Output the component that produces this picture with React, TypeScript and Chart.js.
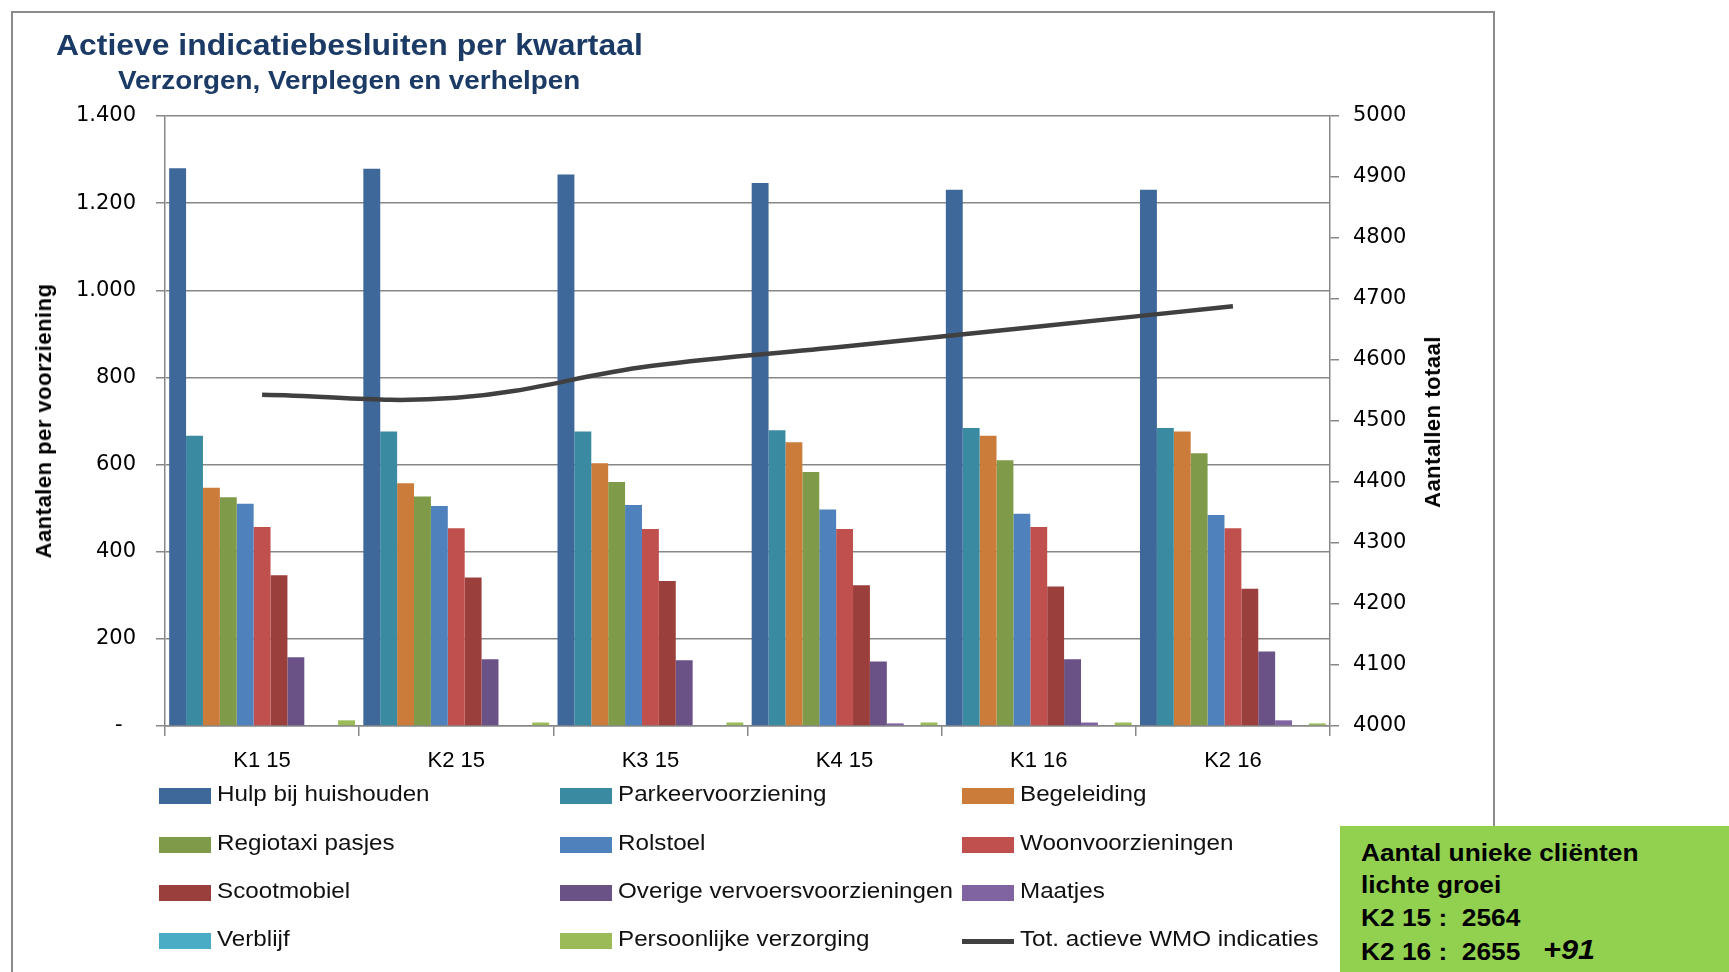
import React, { useEffect, useRef } from 'react';
import { Chart, registerables } from 'chart.js';

Chart.register(...registerables);

// ---------- data ----------
const categories = ['K1 15', 'K2 15', 'K3 15', 'K4 15', 'K1 16', 'K2 16'];
const hulpBijHuishouden = [1280, 1279, 1266, 1246, 1231, 1231];
const parkeervoorziening = [666, 676, 676, 679, 684, 684];
const begeleiding = [547, 557, 603, 651, 666, 676];
const regiotaxiPasjes = [525, 527, 560, 583, 610, 626];
const rolstoel = [510, 505, 507, 497, 487, 484];
const woonvoorzieningen = [457, 454, 452, 452, 457, 454];
const scootmobiel = [346, 341, 333, 323, 320, 315];
const overigeVervoer = [158, 153, 151, 148, 153, 171];
const maatjes = [0, 0, 0, 6, 8, 13];
const verblijf = [0, 0, 0, 0, 0, 0];
const persoonlijkeVerzorging = [13, 8, 8, 8, 8, 6];
const totaalWmoIndicaties = [4543, 4538, 4590, 4622, 4655, 4688];

const leftAxisTicks = [0, 200, 400, 600, 800, 1000, 1200, 1400];
const rightAxisTicks = [4000, 4100, 4200, 4300, 4400, 4500, 4600, 4700, 4800, 4900, 5000];

const barLabels = [
  'Hulp bij huishouden',
  'Parkeervoorziening',
  'Begeleiding',
  'Regiotaxi pasjes',
  'Rolstoel',
  'Woonvoorzieningen',
  'Scootmobiel',
  'Overige vervoersvoorzieningen',
  'Maatjes',
  'Verblijf',
  'Persoonlijke verzorging',
];
const barValues = [
  hulpBijHuishouden,
  parkeervoorziening,
  begeleiding,
  regiotaxiPasjes,
  rolstoel,
  woonvoorzieningen,
  scootmobiel,
  overigeVervoer,
  maatjes,
  verblijf,
  persoonlijkeVerzorging,
];
const lineLabel = 'Tot. actieve WMO indicaties';

const titleText = 'Actieve indicatiebesluiten per kwartaal';
const subtitleText = 'Verzorgen, Verplegen en verhelpen';
const leftAxisTitle = 'Aantalen per voorziening';
const rightAxisTitle = 'Aantallen totaal';
const infoLines = ['Aantal unieke cliënten', 'lichte groei', 'K2 15 :  2564', 'K2 16 :  2655'];
const infoDelta = '+91';

// ---------- styles ----------
const barColors = [
  '#3E6899',
  '#3A8AA1',
  '#CB7B3A',
  '#7F9A48',
  '#4F81BD',
  '#C0504D',
  '#9B3F3D',
  '#6A5186',
  '#8064A2',
  '#4BACC6',
  '#9BBB59',
];
const lineColor = '#404040';
const axisGray = '#878787';
const FONT = '"Liberation Sans", Arial, sans-serif';

function formatNl(v: number): string {
  if (v === 0) return '-  ';
  return String(v).replace(/\B(?=(\d{3})+(?!\d))/g, '.');
}

export default function App() {
  const canvasRef = useRef<HTMLCanvasElement>(null);

  useEffect(() => {
    const canvas = canvasRef.current;
    if (!canvas) return;
    Chart.defaults.font.family = FONT;
    const datasets: any[] = barValues.map((vals, i) => ({
      type: 'bar',
      label: barLabels[i],
      data: vals,
      backgroundColor: barColors[i],
      borderWidth: 0,
      yAxisID: 'y',
      order: 1,
      barPercentage: 1,
      categoryPercentage: 0.957,
    }));
    datasets.push({
      type: 'line',
      label: lineLabel,
      data: totaalWmoIndicaties,
      borderColor: lineColor,
      backgroundColor: lineColor,
      borderWidth: 4.5,
      pointRadius: 0,
      tension: 0.4,
      fill: false,
      yAxisID: 'y1',
      order: 0,
    });

    const chart = new Chart(canvas, {
      type: 'bar',
      data: { labels: categories, datasets },
      options: {
        responsive: false,
        animation: false,
        layout: { padding: { top: 116, left: 0, right: 0, bottom: 0 } },
        plugins: {
          legend: { display: false },
          tooltip: { enabled: false },
          title: { display: false },
        },
        scales: {
          x: {
            grid: {
              drawOnChartArea: false,
              color: axisGray,
              lineWidth: 1.5,
              tickLength: 10,
              offset: true,
            },
            border: { color: axisGray, width: 1.5 },
            ticks: {
              color: '#000',
              font: { family: FONT, size: 22 },
              padding: 12,
              maxRotation: 0,
            },
            afterFit: (s: any) => {
              s.height = 246;
            },
          },
          y: {
            position: 'left',
            min: 0,
            max: 1400,
            afterBuildTicks: (s: any) => {
              s.ticks = leftAxisTicks.map((v) => ({ value: v }));
            },
            ticks: {
              color: '#000',
              font: { family: '"DejaVu Sans", Verdana, sans-serif', size: 21 },
              padding: 20,
              callback: (v: any) => formatNl(Number(v)),
            },
            grid: { color: axisGray, lineWidth: 1.5, tickLength: 9 },
            border: { color: axisGray, width: 1.5 },
            afterFit: (s: any) => {
              s.width = 165;
            },
          },
          y1: {
            position: 'right',
            min: 4000,
            max: 5000,
            afterBuildTicks: (s: any) => {
              s.ticks = rightAxisTicks.map((v) => ({ value: v }));
            },
            ticks: {
              color: '#000',
              font: { family: '"DejaVu Sans", Verdana, sans-serif', size: 21 },
              padding: 14,
              callback: (v: any) => String(v),
            },
            grid: { drawOnChartArea: false, color: axisGray, lineWidth: 1.5, tickLength: 9 },
            border: { color: axisGray, width: 1.5 },
            afterFit: (s: any) => {
              s.width = 399;
            },
          },
        },
      } as any,
    } as any);
    return () => chart.destroy();
  }, []);

  const legendItems = [...barLabels, lineLabel];
  const colX = [159, 560, 962];
  const rowY = [788, 836.5, 885, 933];

  return (
    <div
      style={{
        position: 'fixed',
        left: 0,
        top: 0,
        width: 1729,
        height: 972,
        overflow: 'hidden',
        background: '#fff',
        fontFamily: FONT,
      }}
    >
      {/* frame */}
      <div
        style={{
          position: 'absolute',
          left: 11,
          top: 11,
          width: 1480,
          height: 1100,
          border: '2px solid #8C8C8C',
        }}
      />
      <canvas
        ref={canvasRef}
        width={1729}
        height={972}
        style={{ position: 'absolute', left: 0, top: 0, width: 1729, height: 972 }}
      />
      {/* title */}
      <div
        style={{
          position: 'absolute',
          left: 56,
          top: 31,
          fontSize: 29,
          lineHeight: '29px',
          fontWeight: 'bold',
          color: '#1B3A66',
          whiteSpace: 'pre',
          transform: 'scaleX(1.1)',
          transformOrigin: 'left top',
        }}
      >
        {titleText}
      </div>
      <div
        style={{
          position: 'absolute',
          left: 118,
          top: 67,
          fontSize: 26,
          lineHeight: '26px',
          fontWeight: 'bold',
          color: '#1B3A66',
          whiteSpace: 'pre',
          transform: 'scaleX(1.07)',
          transformOrigin: 'left top',
        }}
      >
        {subtitleText}
      </div>
      {/* axis titles */}
      <div
        style={{
          position: 'absolute',
          left: 44,
          top: 421,
          fontSize: 22,
          lineHeight: '22px',
          fontWeight: 'bold',
          letterSpacing: '0.5px',
          color: '#000',
          whiteSpace: 'pre',
          transform: 'translate(-50%, -50%) rotate(-90deg)',
        }}
      >
        {leftAxisTitle}
      </div>
      <div
        style={{
          position: 'absolute',
          left: 1433,
          top: 422,
          fontSize: 22,
          lineHeight: '22px',
          fontWeight: 'bold',
          letterSpacing: '0.5px',
          color: '#000',
          whiteSpace: 'pre',
          transform: 'translate(-50%, -50%) rotate(-90deg)',
        }}
      >
        {rightAxisTitle}
      </div>
      {/* legend */}
      {legendItems.map((label, i) => {
        const x = colX[i % 3];
        const y = rowY[Math.floor(i / 3)];
        const isLine = i === legendItems.length - 1;
        return (
          <React.Fragment key={label}>
            {isLine ? (
              <div
                style={{
                  position: 'absolute',
                  left: x,
                  top: y + 6,
                  width: 52,
                  height: 4.5,
                  background: lineColor,
                }}
              />
            ) : (
              <div
                style={{
                  position: 'absolute',
                  left: x,
                  top: y,
                  width: 52,
                  height: 16,
                  background: barColors[i],
                }}
              />
            )}
            <div
              style={{
                position: 'absolute',
                left: x + 58,
                top: y + 14 - 18.6,
                fontSize: 22,
                lineHeight: '22px',
                color: '#111',
                whiteSpace: 'pre',
                transform: 'scaleX(1.1)',
                transformOrigin: 'left top',
              }}
            >
              {label}
            </div>
          </React.Fragment>
        );
      })}
      {/* info box */}
      <div
        style={{
          position: 'absolute',
          left: 1340,
          top: 826,
          width: 389,
          height: 146,
          background: '#92D050',
        }}
      >
        {infoLines.map((t, i) => (
          <div
            key={t}
            style={{
              position: 'absolute',
              left: 21,
              top: [35, 67, 100, 134][i] - 20.3,
              fontSize: 24,
              lineHeight: '24px',
              fontWeight: 'bold',
              color: '#000',
              whiteSpace: 'pre',
              transform: 'scaleX(1.095)',
              transformOrigin: 'left top',
            }}
          >
            {t}
          </div>
        ))}
        <div
          style={{
            position: 'absolute',
            left: 203,
            top: 134 - 23.7,
            fontSize: 28,
            lineHeight: '28px',
            fontWeight: 'bold',
            fontStyle: 'italic',
            color: '#000',
            whiteSpace: 'pre',
            transform: 'scaleX(1.095)',
            transformOrigin: 'left top',
          }}
        >
          {infoDelta}
        </div>
      </div>
    </div>
  );
}
